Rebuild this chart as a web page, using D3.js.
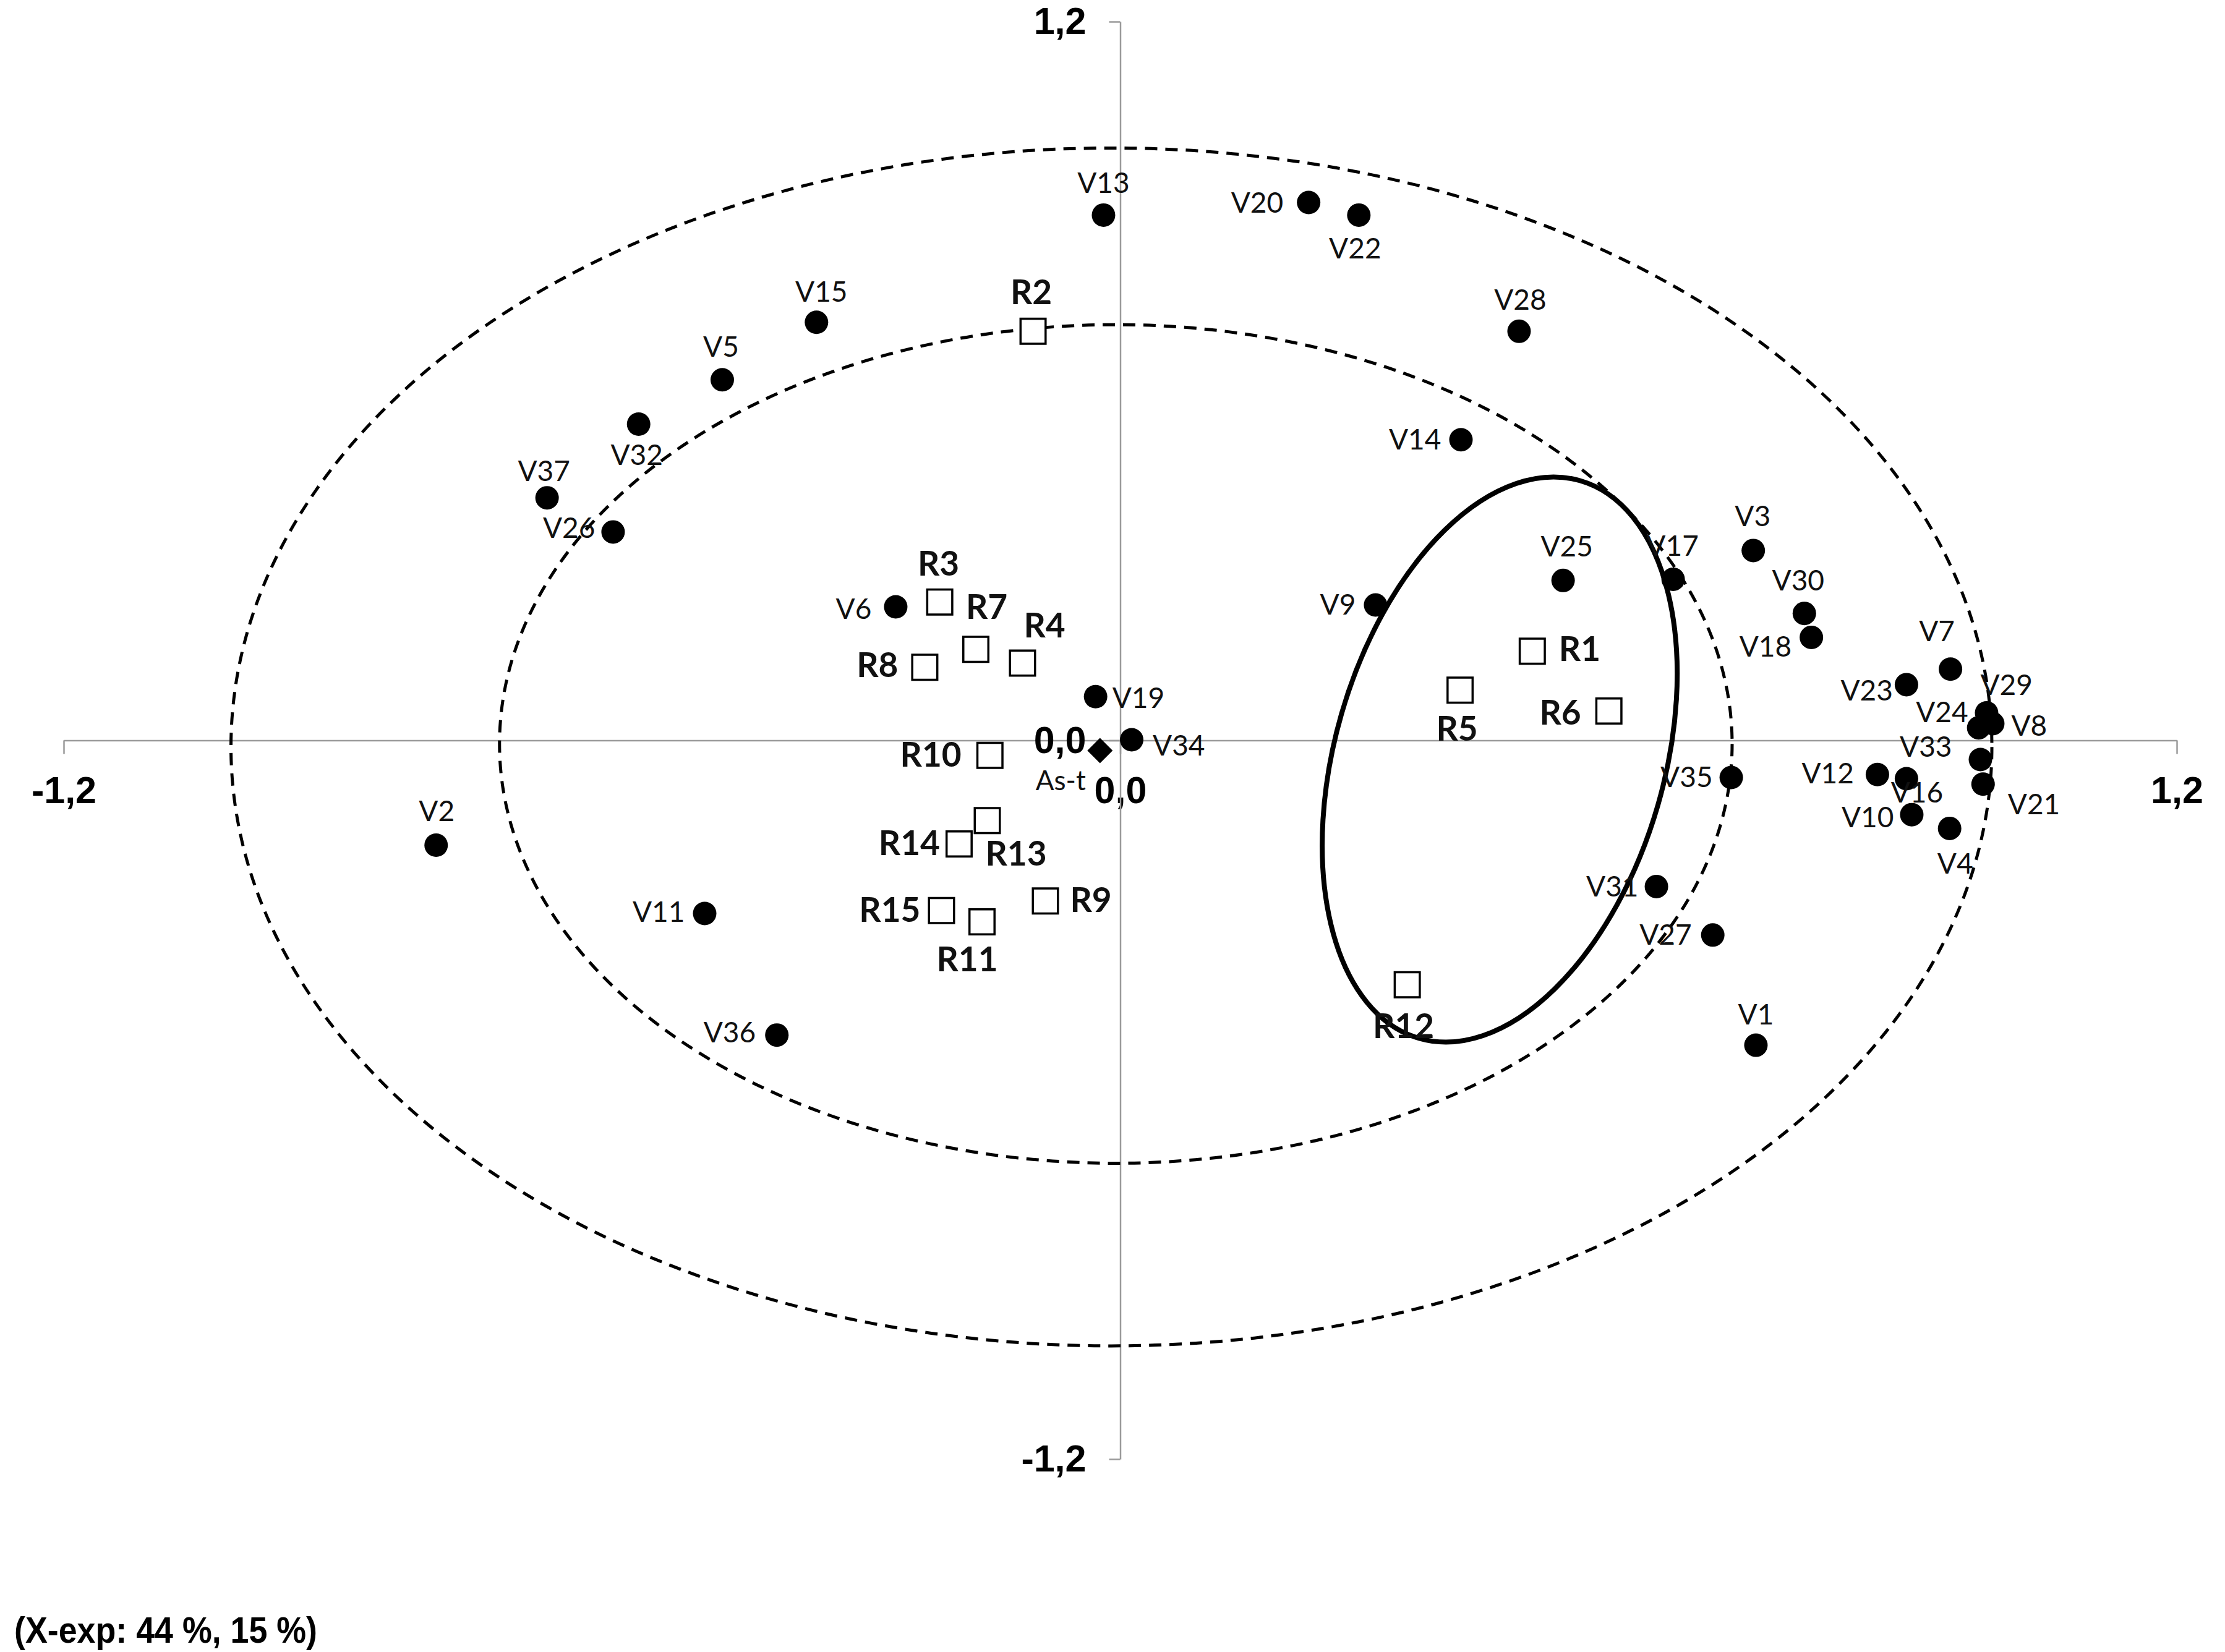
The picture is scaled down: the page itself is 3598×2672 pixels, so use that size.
<!DOCTYPE html>
<html>
<head>
<meta charset="utf-8">
<script src="https://cdn.jsdelivr.net/npm/d3@7"></script>
<style>
  html, body { margin: 0; padding: 0; background: #fff; }
  svg { display: block; }
</style>
</head>
<body>
<svg id="chart" width="3598" height="2672"></svg>
<script>
// ---------- DATA ----------
const varNames = ["V1","V2","V3","V4","V5","V6","V7","V8","V9","V10","V11","V12","V13","V14","V15","V16","V17","V18","V19","V20","V21","V22","V23","V24","V25","V26","V27","V28","V29","V30","V31","V32","V33","V34","V35","V36","V37"];
const varX = [0.722,-0.777,0.719,0.942,-0.452,-0.255,0.943,0.991,0.290,0.899,-0.472,0.860,-0.019,0.387,-0.345,0.893,0.628,0.785,-0.028,0.214,0.980,0.271,0.893,0.975,0.503,-0.576,0.673,0.453,0.984,0.777,0.609,-0.547,0.977,0.013,0.694,-0.390,-0.651];
const varY = [-0.509,-0.175,0.317,-0.147,0.602,0.223,0.119,0.028,0.226,-0.124,-0.289,-0.057,0.877,0.502,0.698,-0.064,0.269,0.172,0.073,0.898,-0.073,0.877,0.093,0.021,0.267,0.348,-0.325,0.683,0.046,0.212,-0.244,0.528,-0.032,0.001,-0.062,-0.492,0.405];

const repNames = ["R1","R2","R3","R4","R5","R6","R7","R8","R9","R10","R11","R12","R13","R14","R15"];
const repX = [0.468,-0.099,-0.205,-0.111,0.386,0.555,-0.164,-0.222,-0.085,-0.148,-0.157,0.326,-0.151,-0.183,-0.203];
const repY = [0.149,0.683,0.231,0.129,0.084,0.049,0.152,0.122,-0.268,-0.025,-0.303,-0.408,-0.134,-0.173,-0.284];

const refNames = ["As-t"];
const refX = [-0.023];
const refY = [-0.017];

const tickValues = [-1.2, 0, 1.2];
const tickLabels = ["-1,2", "0,0", "1,2"];

// correlation circles (radius in data units)
const circleRadius = [1.0, 0.70];
const circleCx = [-0.010, -0.005];
const circleCy = [-0.011, -0.006];

// highlighted group ellipse (centre in data units, semi-axes in x-units, rotation in degrees)
const groupCx = [0.431];
const groupCy = [-0.032];
const groupA = [0.3297];
const groupB = [0.187];
const groupAngle = [-73.9];

const footnote = "(X-exp: 44 %, 15 %)";

// ---------- LABEL PLACEMENT (anchor, dx, dy in px) ----------
const labelPlace = {
  V1:["middle",0,-34], V2:["middle",1,-39], V3:["middle",-1,-39], V4:["middle",9,73],
  V5:["middle",-2,-37], V6:["end",-39,20], V7:["middle",-22,-45], V8:["start",30,20],
  V9:["end",-32,15], V10:["end",-29,20], V11:["end",-32,14], V12:["end",-38,14],
  V13:["middle",0,-36], V14:["end",-32,16], V15:["middle",8,-33], V16:["middle",17,38],
  V17:["middle",-1,-38], V18:["end",-32,31], V19:["start",27,18], V20:["end",-41,16],
  V21:["start",40,49], V22:["middle",-6,70], V23:["end",-22,26], V24:["end",-17,-9],
  V25:["middle",6,-39], V26:["end",-29,10], V27:["end",-34,16], V28:["middle",2,-35],
  V29:["start",-10,-29], V30:["middle",-10,-37], V31:["end",-29,16], V32:["middle",-3,66],
  V33:["end",-46,-5], V34:["start",34,25], V35:["end",-30,15], V36:["end",-34,12],
  V37:["middle",-5,-27],
  R1:["start",43,16], R2:["middle",-3,-44], R3:["middle",-2,-43], R4:["start",2,-42],
  R5:["middle",-5,82], R6:["end",-45,22], R7:["start",-16,-49], R8:["end",-43,16],
  R9:["start",40,18], R10:["end",-46,18], R11:["middle",-24,80], R12:["middle",-6,86],
  R13:["start",-3,73], R14:["end",-31,18], R15:["end",-34,18],
  "As-t":["end",-23,64]
};

// ---------- SCALES ----------
const svg = d3.select("#chart");
const x = d3.scaleLinear().domain([-1.2, 1.2]).range([103, 3520]);
const y = d3.scaleLinear().domain([-1.2, 1.2]).range([2360, 35]);
const fmt = v => tickLabels[tickValues.indexOf(v)];
const axisColor = "#9a9a9a";

// ---------- AXES ----------
const xAxis = svg.append("g")
  .attr("transform", `translate(0,${y(0)})`)
  .call(d3.axisBottom(x).tickValues(tickValues).tickFormat(fmt).tickSize(22).tickSizeOuter(0).tickPadding(36));
const yAxis = svg.append("g")
  .attr("transform", `translate(${x(0)},0)`)
  .call(d3.axisLeft(y).tickValues(tickValues).tickFormat(fmt).tickSize(18).tickSizeOuter(0).tickPadding(37));
[xAxis, yAxis].forEach(g => {
  g.select(".domain").attr("stroke", axisColor).attr("stroke-width", 2.5);
  g.selectAll(".tick line").attr("stroke", axisColor).attr("stroke-width", 2.5);
  g.selectAll(".tick text")
    .attr("fill", "#000")
    .style("font-family", "'Liberation Sans', Arial, sans-serif")
    .style("font-weight", "bold")
    .style("font-size", "61px");
});
// the x-axis 0 tick would overlap the y axis; keep it the same colour

// ---------- CIRCLES ----------
const circleData = circleRadius.map((r, i) => ({r, cx: circleCx[i], cy: circleCy[i]}));
svg.append("g").selectAll("ellipse.corr")
  .data(circleData).join("ellipse")
  .attr("class", "corr")
  .attr("cx", d => x(d.cx))
  .attr("cy", d => y(d.cy))
  .attr("rx", d => x(d.r) - x(0))
  .attr("ry", d => y(0) - y(d.r))
  .attr("fill", "none")
  .attr("stroke", "#000")
  .attr("stroke-width", 5)
  .attr("stroke-dasharray", "20,13");

// ---------- GROUP ELLIPSE ----------
const groupData = groupCx.map((c, i) => ({cx: c, cy: groupCy[i], a: groupA[i], b: groupB[i], ang: groupAngle[i]}));
svg.append("g").selectAll("ellipse.grp")
  .data(groupData).join("ellipse")
  .attr("class", "grp")
  .attr("cx", d => x(d.cx))
  .attr("cy", d => y(d.cy))
  .attr("rx", d => x(d.a) - x(0))
  .attr("ry", d => x(d.b) - x(0))
  .attr("transform", d => `rotate(${d.ang},${x(d.cx)},${y(d.cy)})`)
  .attr("fill", "none")
  .attr("stroke", "#000")
  .attr("stroke-width", 8);

// ---------- MARKERS ----------
const vars = varNames.map((n, i) => ({name: n, x: varX[i], y: varY[i]}));
const reps = repNames.map((n, i) => ({name: n, x: repX[i], y: repY[i]}));
const refs = refNames.map((n, i) => ({name: n, x: refX[i], y: refY[i]}));

svg.append("g").selectAll("circle")
  .data(vars).join("circle")
  .attr("cx", d => x(d.x))
  .attr("cy", d => y(d.y))
  .attr("r", 19)
  .attr("fill", "#000");

svg.append("g").selectAll("path")
  .data(reps).join("path")
  .attr("d", d3.symbol(d3.symbolSquare, 40.5 * 40.5))
  .attr("transform", d => `translate(${x(d.x)},${y(d.y)})`)
  .attr("fill", "#fff")
  .attr("stroke", "#000")
  .attr("stroke-width", 3.5);

svg.append("g").selectAll("path")
  .data(refs).join("path")
  .attr("d", d3.symbol(d3.symbolSquare, 29 * 29))
  .attr("transform", d => `translate(${x(d.x)},${y(d.y)}) rotate(45)`)
  .attr("fill", "#000");

// ---------- LABELS ----------
function addLabels(data, size, weight) {
  svg.append("g").selectAll("text")
    .data(data).join("text")
    .attr("x", d => x(d.x) + labelPlace[d.name][1])
    .attr("y", d => y(d.y) + labelPlace[d.name][2])
    .attr("text-anchor", d => labelPlace[d.name][0])
    .style("font-family", "Lato, 'Open Sans', sans-serif")
    .style("font-size", size + "px")
    .style("font-weight", weight)
    .attr("fill", "#111")
    .text(d => d.name);
}
addLabels(vars, 46, "normal");
addLabels(reps, 55, "bold");
addLabels(refs, 44, "normal");

// ---------- FOOTNOTE ----------
svg.append("text")
  .attr("x", 23)
  .attr("y", 2657)
  .attr("textLength", 490)
  .attr("lengthAdjust", "spacingAndGlyphs")
  .style("font-family", "'Liberation Sans', Arial, sans-serif")
  .style("font-weight", "bold")
  .style("font-size", "60px")
  .attr("fill", "#000")
  .text(footnote);
</script>
</body>
</html>
